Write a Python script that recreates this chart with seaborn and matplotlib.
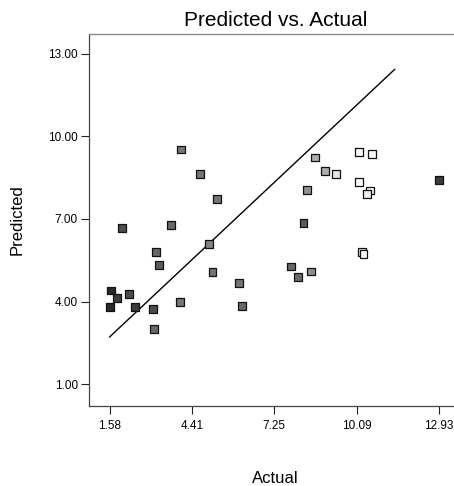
'''Predicted vs. Actual scatter plot'''
import pandas as pd
import seaborn as sns
import matplotlib.pyplot as plt

# Values
actual = [1.61, 1.82, 1.58, 2.23, 2.44, 2.00, 3.06, 3.09, 3.17, 3.28,
          3.70, 3.99, 4.02, 4.70, 4.99, 5.12, 5.28, 6.02, 6.13, 7.82,
          8.08, 8.26, 8.39, 8.51, 8.66, 8.99, 9.38, 10.17, 10.62, 10.17,
          10.55, 10.46, 10.27, 10.33, 12.93]
predicted = [4.40, 4.13, 3.81, 4.28, 3.81, 6.68, 3.74, 3.01, 5.81, 5.34,
             6.78, 3.99, 9.52, 8.63, 6.08, 5.06, 7.72, 4.68, 3.85, 5.27,
             4.89, 6.84, 8.05, 5.09, 9.23, 8.75, 8.64, 9.43, 9.36, 8.35,
             8.03, 7.91, 5.79, 5.72, 8.40]
# colour-by value of each run (dark = low, light = high)
shade = [0.15, 0.2, 0.15, 0.25, 0.2, 0.25, 0.25, 0.35, 0.35, 0.3,
         0.35, 0.4, 0.4, 0.4, 0.45, 0.4, 0.4, 0.4, 0.35, 0.35,
         0.35, 0.3, 0.5, 0.5, 0.6, 0.6, 0.85, 1.0, 1.0, 1.0,
         0.95, 0.9, 0.9, 0.95, 0.2]

# reference line endpoints
line_x = [1.56, 11.41]
line_y = [2.71, 12.43]

x_ticks = [1.58, 4.41, 7.25, 10.09, 12.93]
y_ticks = [1.00, 4.00, 7.00, 10.00, 13.00]

df = pd.DataFrame({'Actual': actual, 'Predicted': predicted, 'shade': shade})

sns.set_style('ticks')
plt.rcParams['font.family'] = ['Liberation Sans', 'DejaVu Sans']
plt.rcParams['text.color'] = 'black'
plt.rcParams['axes.labelcolor'] = 'black'
plt.rcParams['xtick.color'] = 'black'
plt.rcParams['ytick.color'] = 'black'

fig = plt.figure(figsize=(4.54, 4.86), dpi=100)
ax = fig.add_axes([89 / 454, 1 - 406 / 486, (462 - 89) / 454, (406 - 34) / 486])

# the diagonal line
sns.lineplot(x=line_x, y=line_y, ax=ax, color='black', linewidth=1.0)

# the runs
sns.scatterplot(
    data=df, x='Actual', y='Predicted', hue='shade',
    palette='Greys_r', hue_norm=(0, 1.05), legend=False,
    marker='s', s=32, edgecolor='#111111', linewidth=0.9, ax=ax, zorder=3
)

ax.set_xlim(0.855, 13.73)
ax.set_ylim(0.21, 13.71)
ax.set_xticks(x_ticks)
ax.set_xticklabels([f'{v:.2f}' for v in x_ticks])
ax.set_yticks(y_ticks)
ax.set_yticklabels([f'{v:.2f}' for v in y_ticks])
ax.tick_params(axis='both', direction='out', length=6, width=0.8,
               color='#222222', labelsize=8.5, pad=2)
ax.tick_params(axis='x', pad=4)

for side in ['left', 'bottom', 'top', 'right']:
    ax.spines[side].set_visible(True)
    ax.spines[side].set_color('#444444')
    ax.spines[side].set_linewidth(0.9)
ax.spines['top'].set_color('#888888')
ax.spines['top'].set_linestyle((0, (1, 0.6)))

ax.set_xlabel('Actual', fontsize=12)
ax.set_ylabel('Predicted', fontsize=12)
ax.xaxis.set_label_coords(0.5, -0.175)
ax.yaxis.set_label_coords(-0.172, 0.5)
ax.set_title('Predicted vs. Actual', fontsize=15, pad=6)

fig.savefig('out.png', dpi=100)
